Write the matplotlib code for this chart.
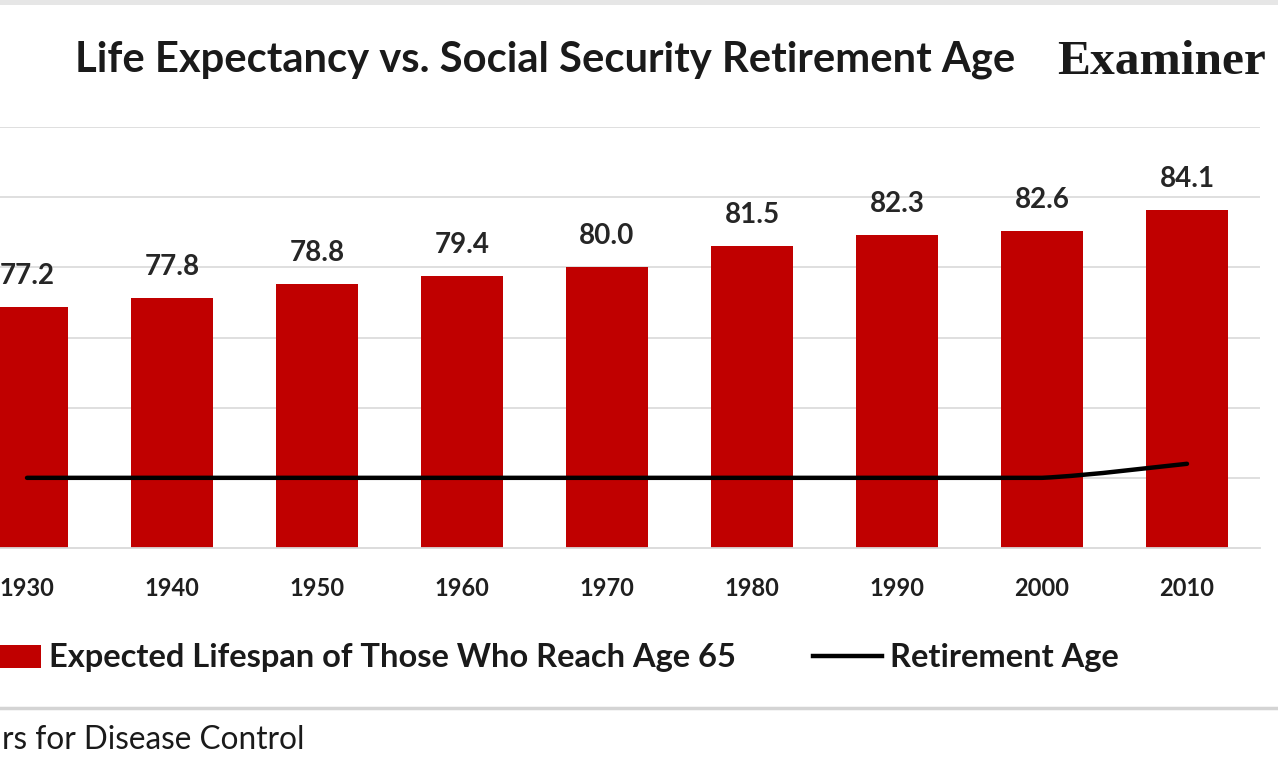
import matplotlib
matplotlib.use('Agg')
import matplotlib.pyplot as plt
from matplotlib.path import Path
from matplotlib.patches import PathPatch, Patch, Rectangle
from matplotlib.lines import Line2D
import numpy as np

# ---- data ----
years = ['1930', '1940', '1950', '1960', '1970', '1980', '1990', '2000', '2010']
lifespan = [77.2, 77.8, 78.8, 79.4, 80.0, 81.5, 82.3, 82.6, 84.1]
retirement_age = [65, 65, 65, 65, 65, 65, 65, 65, 66]
title = 'Life Expectancy vs. Social Security Retirement Age'
bar_label = 'Expected Lifespan of Those Who Reach Age 65'
line_label = 'Retirement Age'
source_visible = 'rs for Disease Control'

plt.rcParams['font.family'] = ['Lato', 'DejaVu Sans']

W, H = 1278, 760
fig = plt.figure(figsize=(W / 100, H / 100), dpi=100)
fig.patch.set_facecolor('white')
renderer = fig.canvas.get_renderer()


def fx(px):
    return px / W


def fy(py):
    return 1 - py / H


def fit_size(s, target_px, weight='normal', family=None, start=20):
    t = fig.text(0, 0, s, fontsize=start, fontweight=weight,
                 family=family if family else plt.rcParams['font.family'])
    w = t.get_window_extent(renderer).width
    t.remove()
    return start * target_px / w


# ---- axes (left part cropped like the reference) ----
ax = fig.add_axes([fx(-45.5), fy(548), (1259.5 + 45.5) / W, (548 - 127) / H])
x = np.arange(len(years))
ax.bar(x, lifespan, width=0.566, color='#C00000', zorder=2)
ax.set_xlim(-0.5, 8.5)
ax.set_ylim(60, 90)
ax.set_yticks([65, 70, 75, 80, 85, 90])
ax.yaxis.grid(True, color='#dcdcdc', lw=1.3, zorder=0)
ax.set_axisbelow(True)
ax.tick_params(axis='y', left=False, labelleft=False)
for s in ['left', 'right', 'top']:
    ax.spines[s].set_visible(False)
ax.spines['bottom'].set_color('#d9d9d9')
ax.spines['bottom'].set_linewidth(1.3)
ax.set_xticks(x, years)
ax.tick_params(axis='x', length=0, pad=21, labelsize=17, labelcolor='#1f1f1f')
for lab in ax.get_xticklabels():
    lab.set_fontweight('bold')

# smoothed retirement-age line (Catmull-Rom -> cubic Bezier, like Excel smoothing)
P = np.column_stack([x, retirement_age]).astype(float)
verts = [tuple(P[0])]
codes = [Path.MOVETO]
n = len(P)
for i in range(n - 1):
    p0 = P[i - 1] if i > 0 else P[i]
    p1, p2 = P[i], P[i + 1]
    p3 = P[i + 2] if i + 2 < n else P[i + 1]
    c1 = p1 + (p2 - p0) / 6
    c2 = p2 - (p3 - p1) / 6
    if p1[1] == p2[1]:
        c1[1] = c2[1] = p1[1]
    verts += [tuple(c1), tuple(c2), tuple(p2)]
    codes += [Path.CURVE4] * 3
ax.add_patch(PathPatch(Path(verts, codes), fill=False, edgecolor='black',
                       lw=3.2, zorder=3, capstyle='round'))

# data labels
for xi, v in zip(x, lifespan):
    ax.annotate(f'{v:.1f}', (xi, v), xytext=(0, 23), textcoords='offset pixels',
                ha='center', va='baseline', fontsize=20, fontweight='bold',
                color='#262626', annotation_clip=False)

# ---- title & logo ----
ts = fit_size(title, 940, weight='bold')
fig.text(fx(75), fy(60), title, fontsize=ts, fontweight='bold', color='#1a1a1a',
         ha='left', va='center')
es = fit_size('Examiner', 208, weight='bold', family=['Liberation Serif'])
fig.text(fx(1057), fy(74), 'Examiner', fontsize=es, fontweight='bold',
         family=['Liberation Serif'], color='#1a1a1a', ha='left', va='baseline')

# ---- legend ----
ls = fit_size(bar_label, 689, weight='bold')
lpx = ls * 100 / 72
handles = [Patch(facecolor='#C00000', edgecolor='none', label=bar_label),
           Line2D([], [], color='black', lw=3.2, label=line_label)]
leg = fig.legend(handles=handles, ncol=2, frameon=False, loc='center left',
                 bbox_to_anchor=(fx(-28), fy(658)), fontsize=ls, borderpad=0,
                 borderaxespad=0, handlelength=69 / lpx, handletextpad=8 / lpx,
                 columnspacing=77 / lpx, handleheight=0.7, labelcolor='#1a1a1a',
                 prop={'weight': 'bold', 'size': ls})

# ---- decorations ----
fig.add_artist(Rectangle((0, fy(5)), 1, 5 / H, transform=fig.transFigure,
                         facecolor='#e6e6e6', edgecolor='none'))
fig.add_artist(Line2D([0, 1], [fy(708), fy(708)], transform=fig.transFigure,
                      color='#d4d4d4', lw=2.5))
ss = fit_size(source_visible, 303)
fig.text(fx(2), fy(740), source_visible, fontsize=ss, color='#1a1a1a', ha='left',
         va='center')

fig.savefig('out.png', dpi=100)
